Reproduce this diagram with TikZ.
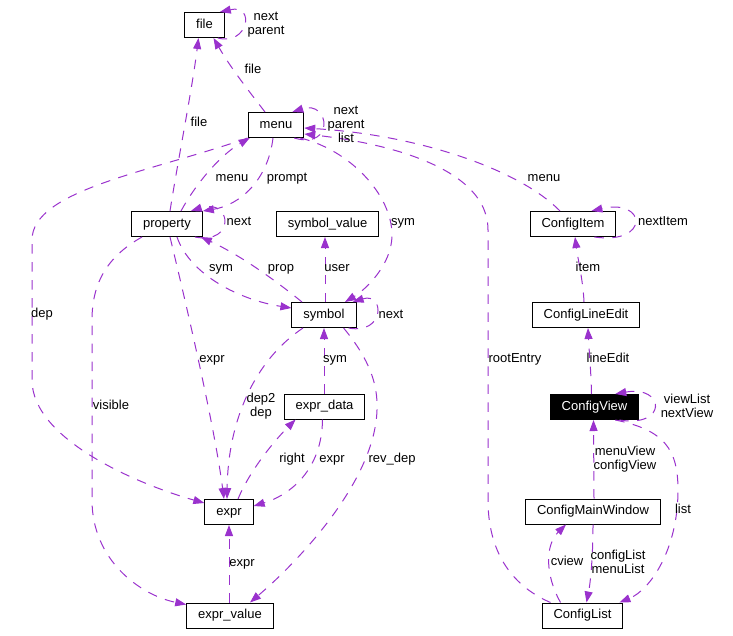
\documentclass[tikz,border=0pt]{standalone}
\usepackage{fontspec}
\setmainfont{Liberation Sans}
\usetikzlibrary{arrows.meta}
\definecolor{edgec}{HTML}{9A32CD}
\begin{document}
\begin{tikzpicture}[x=1pt,y=-1pt,
  cls/.style={draw=black,line width=1pt,fill=white,minimum height=25pt,inner xsep=11.5pt,inner ysep=0pt,text height=9.5pt,text depth=2.7pt,font=\fontsize{13}{15}\selectfont},
  cur/.style={cls,fill=black,text=white},
  rel/.style={draw=edgec,line width=1pt,dash pattern=on 9.5pt off 8.5pt,-{Triangle[length=11pt,width=8pt]}},
  lbl/.style={font=\fontsize{13}{14}\selectfont,inner sep=0pt,text height=9.5pt,text depth=2.7pt},
  lblm/.style={font=\fontsize{13}{14}\selectfont,inner sep=0pt,align=center}]
\useasboundingbox (0,0) rectangle (733,635);

% classes
\node[cls] (file) at (204.5,25) {file};
\node[cls] (menu) at (276,125) {menu};
\node[cls] (property) at (167,224) {property};
\node[cls] (symbol_value) at (327.5,224) {symbol\_value};
\node[cls] (ConfigItem) at (573,224) {ConfigItem};
\node[cls] (symbol) at (324,315) {symbol};
\node[cls] (ConfigLineEdit) at (586,315) {ConfigLineEdit};
\node[cls] (expr_data) at (324.5,406.5) {expr\_data};
\node[cur] (ConfigView) at (594.5,407) {ConfigView};
\node[cls] (expr) at (229,512) {expr};
\node[cls] (ConfigMainWindow) at (593,511.5) {ConfigMainWindow};
\node[cls] (expr_value) at (230,615.5) {expr\_value};
\node[cls] (ConfigList) at (582.5,615.5) {ConfigList};

% connectors
\draw[rel] ([xshift=-7pt]file.south east) .. controls (248,46) and (256,4) .. ([xshift=-5pt]file.north east);
\draw[rel] ([xshift=-11pt]menu.north) .. controls (252,95) and (232,70) .. ([xshift=9pt]file.south);
\draw[rel] ([xshift=3pt]property.north) .. controls (178,160) and (192,90) .. ([xshift=-6pt]file.south);
\draw[rel] ([xshift=14pt]property.north) .. controls (195,185) and (220,155) .. ([xshift=2pt]menu.south west);
\draw[rel] ([xshift=-3pt]menu.south) .. controls (268,180) and (240,205) .. (property.north east);
\draw[rel] ([xshift=-8pt]property.south east) .. controls (236,245) and (232,198) .. ([xshift=-12pt]property.north east);
\draw[rel] ([xshift=-22pt]symbol.north) .. controls (275,280) and (240,255) .. ([xshift=-2pt]property.south east);
\draw[rel] ([xshift=10pt]property.south) .. controls (190,275) and (240,300) .. ([yshift=7pt]symbol.west);
\draw[rel] ([xshift=1pt]symbol.north) -- ([xshift=-2.5pt]symbol_value.south);
\draw[rel] ([xshift=-4pt]menu.south east) .. controls (350,150) and (392,195) .. (392,235) .. controls (392,265) and (365,290) .. ([xshift=21pt]symbol.north);
\draw[rel] ([xshift=-8pt]symbol.south east) .. controls (385,335) and (385,292) .. ([xshift=-4pt]symbol.north east);
\draw[rel] ([xshift=3pt]property.south) .. controls (190,320) and (215,430) .. ([xshift=-5pt]expr.north);
\draw[rel] ([xshift=-21pt]symbol.south) .. controls (255,360) and (228,420) .. ([xshift=-2pt]expr.north);
\draw[rel] ([xshift=-0.5pt]expr_data.north) -- (symbol.south);
\draw[rel] ([xshift=9pt]expr.north) .. controls (250,470) and (275,440) .. ([xshift=12pt]expr_data.south west);
\draw[rel] ([xshift=-2pt]expr_data.south) .. controls (322,470) and (290,495) .. ([yshift=6pt]expr.east);
\draw[rel] ([xshift=-13pt]symbol.south east) .. controls (370,360) and (378,385) .. (377,410) .. controls (375,480) and (300,560) .. ([xshift=20pt]expr_value.north);
\draw[rel] ([xshift=-25pt]property.south) .. controls (110,255) and (92,280) .. (92,320) -- (92,500) .. controls (92,560) and (140,595) .. ([yshift=11pt]expr_value.west);
\draw[rel] ([xshift=-1pt]expr_value.north) -- (expr.south);
\draw[rel] (menu.south west) .. controls (150,172) and (32,190) .. (32,240) -- (32,380) .. controls (32,440) and (140,485) .. ([yshift=9pt]expr.west);
\draw[rel] ([xshift=-13pt]ConfigItem.north) .. controls (520,170) and (420,135) .. ([yshift=-3pt]menu.east);
\draw[rel] ([xshift=-32pt]ConfigList.north) .. controls (510,585) and (488,550) .. (488,500) -- (488,230) .. controls (488,160) and (360,140) .. ([yshift=-9pt]menu.east);
\draw[rel] ([xshift=-10pt]menu.south east) .. controls (335,150) and (330,100) .. ([xshift=-12pt]menu.north east);
\draw[rel] ([xshift=-22pt]ConfigItem.south east) .. controls (650,245) and (647,198) .. ([xshift=-25pt]ConfigItem.north east);
\draw[rel] ([xshift=-2pt]ConfigLineEdit.north) .. controls (583,280) and (578,260) .. ([xshift=2pt]ConfigItem.south);
\draw[rel] ([xshift=-3pt]ConfigView.north) .. controls (591,370) and (589,350) .. ([xshift=2pt]ConfigLineEdit.south);
\draw[rel] ([xshift=-20pt]ConfigView.south east) .. controls (668,428) and (665,385) .. ([xshift=-24pt]ConfigView.north east);
\draw[rel] ([xshift=1pt]ConfigMainWindow.north) -- ([xshift=-1pt]ConfigView.south);
\draw[rel] ([xshift=-24pt]ConfigView.south east) .. controls (665,430) and (678,450) .. (678,490) .. controls (678,550) and (650,590) .. ([xshift=-4pt]ConfigList.north east);
\draw[rel] ([xshift=-22pt]ConfigList.north) .. controls (545,575) and (545,545) .. ([xshift=-27pt]ConfigMainWindow.south);
\draw[rel] (ConfigMainWindow.south) .. controls (593,560) and (590,585) .. ([xshift=4pt]ConfigList.north);

% labels
\node[lblm] (l1) at (266,24.5) {next\\parent};
\node[lbl] (l2) at (253,70) {file};
\node[lbl] (l3) at (199,123) {file};
\node[lbl] (l4) at (232,178) {menu};
\node[lbl] (l5) at (287,178) {prompt};
\node[lbl] (l6) at (239,222) {next};
\node[lblm] (l7) at (346,124) {next\\parent\\list};
\node[lbl] (l8) at (403,222) {sym};
\node[lbl] (l9) at (544,178) {menu};
\node[lbl] (l10) at (663,222) {nextItem};
\node[lbl] (l11) at (221,268) {sym};
\node[lbl] (l12) at (281,268) {prop};
\node[lbl] (l13) at (337,268) {user};
\node[lbl] (l14) at (588,268) {item};
\node[lbl] (l15) at (42,314) {dep};
\node[lbl] (l16) at (391,315) {next};
\node[lbl] (l17) at (212,359) {expr};
\node[lbl] (l18) at (335,359) {sym};
\node[lbl] (l19) at (515,359) {rootEntry};
\node[lbl] (l20) at (608,359) {lineEdit};
\node[lbl] (l21) at (111,406) {visible};
\node[lblm] (l22) at (261,406) {dep2\\dep};
\node[lblm] (l23) at (687,406) {viewList\\nextView};
\node[lbl] (l24) at (292,459) {right};
\node[lbl] (l25) at (332,459) {expr};
\node[lbl] (l26) at (392,459) {rev\_dep};
\node[lblm] (l27) at (625,459) {menuView\\configView};
\node[lbl] (l28) at (683,510) {list};
\node[lbl] (l29) at (242,563) {expr};
\node[lbl] (l30) at (567,562) {cview};
\node[lblm] (l31) at (618,562) {configList\\menuList};
\end{tikzpicture}
\end{document}
